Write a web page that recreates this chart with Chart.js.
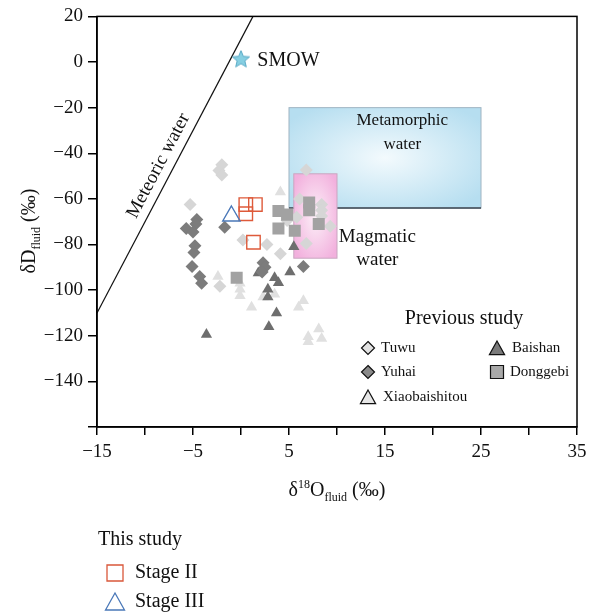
<!DOCTYPE html>
<html>
<head>
<meta charset="utf-8">
<script src="https://cdn.jsdelivr.net/npm/chart.js@4.4.1/dist/chart.umd.min.js"></script>
<style>
  html, body { margin: 0; padding: 0; background: #fff; }
  #wrap { width: 606px; height: 616px; }
</style>
</head>
<body>
<div id="wrap"><canvas id="isotopeChart" width="606" height="616"></canvas></div>
<script>
// Nhãn trục
const xTickLabels = [-15, -5, 5, 15, 25, 35];
const yTickLabels = [20, 0, -20, -40, -60, -80, -100, -120, -140];

// Previous study: [δ18O, δD]
const tuwu = [[-2.0, -45], [-2.3, -47.5], [-2.0, -49.5], [-5.3, -62.5], [6.8, -47.3], [6.1, -60],
  [8.4, -62.5], [8.4, -65], [8.4, -67.5], [9.3, -72], [5.8, -68], [4.8, -69.5], [6.8, -79.6],
  [0.2, -78], [2.7, -80], [4.1, -84], [-2.2, -98.3]];
const yuhai = [[-4.6, -69], [-4.7, -71], [-5.7, -73], [-5.0, -74.5], [-1.7, -72.4], [-4.8, -80.5],
  [-4.9, -83.5], [-5.1, -89.6], [-4.3, -94], [-4.1, -97], [2.3, -88], [2.5, -90], [2.2, -92], [6.5, -89.6]];
const xiaobaishitou = [[4.1, -57], [-2.4, -94], [-0.1, -97], [-0.1, -99.6], [-0.1, -102.5],
  [1.1, -107.5], [2.3, -103], [3.5, -101.8], [6.0, -107.5], [6.5, -104.6], [8.1, -117],
  [7.0, -120.4], [7.0, -122.6], [8.4, -121.2]];
const baishan = [[1.8, -92.5], [3.5, -94.6], [3.9, -96.8], [5.1, -92], [2.8, -99.6], [2.8, -103],
  [3.7, -110], [2.9, -116], [-3.6, -119.4], [5.5, -81]];
const donggebi = [[-0.45, -94.6], [3.9, -65.3], [4.8, -66.9], [3.9, -73], [5.6, -74],
  [7.1, -61.6], [7.1, -65], [8.1, -71]];

// This study
const stageII = [[0.5, -62.5], [1.5, -62.5], [0.5, -66.5], [1.3, -79]];
const stageIII = [[-1.0, -67.5]];

// Tham chiếu
const smow = [[0, 1.5]];
const meteoricLine = [[-15, -110], [1.25, 20]];
const metamorphicBox = [5, 25, -20, -64];   // xMin, xMax, yMax, yMin
const magmaticBox = [5.5, 10, -49, -86];

const SERIF = "'Liberation Serif', 'DejaVu Serif', serif";

function toPts(arr) {
  return arr.map(p => ({ x: p[0], y: p[1] }));
}

function fmt(v) {
  return v < 0 ? "\u2212" + Math.abs(v) : String(v);
}

// Ngôi sao SMOW
function makeStar(size, fill, stroke) {
  const c = document.createElement("canvas");
  c.width = size; c.height = size;
  const g = c.getContext("2d");
  const cx = size / 2, cy = size / 2 + 1, R = size / 2 - 1, r = R * 0.45;
  g.beginPath();
  for (let i = 0; i < 10; i++) {
    const a = -Math.PI / 2 + i * Math.PI / 5;
    const rr = i % 2 ? r : R;
    g.lineTo(cx + rr * Math.cos(a), cy + rr * Math.sin(a));
  }
  g.closePath();
  g.fillStyle = fill; g.fill();
  g.strokeStyle = stroke; g.lineWidth = 1; g.stroke();
  return c;
}

function marker(ctx, style, x, y, r, fill, stroke, lw) {
  ctx.beginPath();
  if (style === "diamond") {
    ctx.moveTo(x, y - r); ctx.lineTo(x + r, y); ctx.lineTo(x, y + r); ctx.lineTo(x - r, y);
  } else if (style === "triangle") {
    ctx.moveTo(x, y - r); ctx.lineTo(x + r * 0.95, y + r * 0.7); ctx.lineTo(x - r * 0.95, y + r * 0.7);
  } else {
    ctx.rect(x - r, y - r, 2 * r, 2 * r);
  }
  ctx.closePath();
  if (fill) { ctx.fillStyle = fill; ctx.fill(); }
  if (stroke) { ctx.strokeStyle = stroke; ctx.lineWidth = lw; ctx.stroke(); }
}

// Vẽ chuỗi chữ có chỉ số trên/dưới
function richText(ctx, parts, x, y) {
  let total = 0;
  parts.forEach(p => { ctx.font = p.size + "px " + SERIF; p.w = ctx.measureText(p.t).width; total += p.w; });
  let cx = x - total / 2;
  ctx.textAlign = "left";
  ctx.textBaseline = "alphabetic";
  parts.forEach(p => {
    ctx.font = p.size + "px " + SERIF;
    ctx.fillText(p.t, cx, y + (p.dy || 0));
    cx += p.w;
  });
}

function fillBox(ctx, chart, box, inner, outer, edge) {
  const xs = chart.scales.x, ys = chart.scales.y;
  const x0 = xs.getPixelForValue(box[0]), x1 = xs.getPixelForValue(box[1]);
  const y0 = ys.getPixelForValue(box[2]), y1 = ys.getPixelForValue(box[3]);
  const w = x1 - x0, h = y1 - y0;
  ctx.save();
  ctx.translate((x0 + x1) / 2, (y0 + y1) / 2);
  ctx.scale(1, h / w);
  const grad = ctx.createRadialGradient(0, 0, 0, 0, 0, w * 0.62);
  grad.addColorStop(0, inner);
  grad.addColorStop(1, outer);
  ctx.fillStyle = grad;
  ctx.fillRect(-w / 2, -w / 2, w, w);
  ctx.restore();
  ctx.strokeStyle = edge;
  ctx.lineWidth = 1;
  ctx.strokeRect(x0, y0, w, h);
  return { x0, x1, y0, y1 };
}

const decorPlugin = {
  id: "decor",
  beforeDatasetsDraw(chart) {
    const ctx = chart.ctx;
    const m = fillBox(ctx, chart, metamorphicBox, "#f3fafd", "#b6def0", "#9fb4c2");
    ctx.strokeStyle = "#3c4650";
    ctx.lineWidth = 1.5;
    ctx.beginPath(); ctx.moveTo(m.x0, m.y1); ctx.lineTo(m.x1, m.y1); ctx.stroke();
    fillBox(ctx, chart, magmaticBox, "#fcf0f8", "#f2b0dd", "#c9a6c0");
  },
  afterDatasetsDraw(chart) {
    const ctx = chart.ctx, ca = chart.chartArea;
    const xs = chart.scales.x, ys = chart.scales.y;
    ctx.save();
    // khung
    ctx.strokeStyle = "#000"; ctx.lineWidth = 1.5;
    ctx.strokeRect(ca.left, ca.top, ca.right - ca.left, ca.bottom - ca.top);

    ctx.fillStyle = "#111";
    ctx.font = "20px " + SERIF;
    ctx.textBaseline = "middle";
    ctx.textAlign = "left";
    ctx.fillText("SMOW", xs.getPixelForValue(1.7), ys.getPixelForValue(0.6));

    ctx.textAlign = "center";
    ctx.font = "17px " + SERIF;
    ctx.fillText("Metamorphic", xs.getPixelForValue(16.8), ys.getPixelForValue(-25.7));
    ctx.fillText("water", xs.getPixelForValue(16.8), ys.getPixelForValue(-36.3));
    ctx.font = "19px " + SERIF;
    ctx.fillText("Magmatic", xs.getPixelForValue(14.2), ys.getPixelForValue(-76.5));
    ctx.fillText("water", xs.getPixelForValue(14.2), ys.getPixelForValue(-87));

    // Meteoric water, dọc theo đường
    const p0x = xs.getPixelForValue(meteoricLine[0][0]), p0y = ys.getPixelForValue(meteoricLine[0][1]);
    const p1x = xs.getPixelForValue(meteoricLine[1][0]), p1y = ys.getPixelForValue(meteoricLine[1][1]);
    const ang = Math.atan2(p1y - p0y, p1x - p0x);
    const tx = xs.getPixelForValue(-8.6), ty = ys.getPixelForValue(-45.5);
    ctx.translate(tx, ty);
    ctx.rotate(ang);
    ctx.font = "19px " + SERIF;
    ctx.fillText("Meteoric water", 0, 0);
    ctx.restore();
  },
  afterDraw(chart) {
    const ctx = chart.ctx, ca = chart.chartArea;
    ctx.save();
    ctx.fillStyle = "#111";
    // tiêu đề trục
    richText(ctx, [
      { t: "\u03B4", size: 20 }, { t: "18", size: 12, dy: -8 }, { t: "O", size: 20 },
      { t: "fluid", size: 12, dy: 5 }, { t: " (\u2030)", size: 20 }
    ], (ca.left + ca.right) / 2, 496);
    ctx.save();
    ctx.translate(35, 231);
    ctx.rotate(-Math.PI / 2);
    richText(ctx, [
      { t: "\u03B4D", size: 20 }, { t: "fluid", size: 12, dy: 5 }, { t: " (\u2030)", size: 20 }
    ], 0, 0);
    ctx.restore();

    // Previous study legend
    const lx = ca.right - 209, ly = 319;
    ctx.textAlign = "center"; ctx.textBaseline = "middle";
    ctx.font = "20px " + SERIF;
    ctx.fillText("Previous study", lx + 96, ly);
    ctx.font = "15px " + SERIF;
    ctx.textAlign = "left";
    const items = [
      ["Tuwu", "diamond", "#e2e2e2", 0, 29],
      ["Yuhai", "diamond", "#8a8a8a", 0, 53],
      ["Xiaobaishitou", "triangle", "#e6e6e6", 0, 78],
      ["Baishan", "triangle", "#7a7a7a", 129, 29],
      ["Donggebi", "square", "#a8a8a8", 129, 53]
    ];
    items.forEach(it => {
      const mx = lx + it[3], my = ly + it[4];
      const r = it[1] === "square" ? 6.5 : it[1] === "triangle" ? 8 : 6.5;
      marker(ctx, it[1], mx, my + (it[1] === "triangle" ? 1 : 0), r, it[2], "#111", 1.2);
      ctx.fillStyle = "#111";
      ctx.fillText(it[0], mx + (it[1] === "triangle" ? 15 : 13), my);
    });

    // This study legend
    ctx.font = "20px " + SERIF;
    ctx.textAlign = "left";
    ctx.fillStyle = "#111";
    ctx.fillText("This study", 98, 540);
    marker(ctx, "square", 115, 573, 8, null, "#d9573a", 1.3);
    marker(ctx, "triangle", 115, 603, 10, null, "#4a78b8", 1.3);
    ctx.fillStyle = "#111";
    ctx.fillText("Stage II", 135, 573);
    ctx.fillText("Stage III", 135, 602);
    ctx.restore();
  }
};

const starImg = makeStar(20, "#86cfe2", "#5aaac6");

new Chart(document.getElementById("isotopeChart"), {
  type: "scatter",
  data: {
    datasets: [
      { label: "Stage III", data: toPts(stageIII), pointStyle: "triangle", pointRadius: 10,
        backgroundColor: "rgba(0,0,0,0)", borderColor: "#4a78b8", borderWidth: 1.4 },
      { label: "Stage II", data: toPts(stageII), pointStyle: "rect", pointRadius: 9.5,
        backgroundColor: "rgba(0,0,0,0)", borderColor: "#de5a3a", borderWidth: 1.4 },
      { label: "SMOW", data: toPts(smow), pointStyle: starImg },
      { label: "Donggebi", data: toPts(donggebi), pointStyle: "rect", pointRadius: 8.5,
        backgroundColor: "#a2a2a2", borderWidth: 0 },
      { label: "Yuhai", data: toPts(yuhai), pointStyle: "rectRot", pointRadius: 6.5,
        backgroundColor: "#7c7c7c", borderWidth: 0 },
      { label: "Baishan", data: toPts(baishan), pointStyle: "triangle", pointRadius: 6.5,
        backgroundColor: "#6e6e6e", borderWidth: 0 },
      { label: "Tuwu", data: toPts(tuwu), pointStyle: "rectRot", pointRadius: 6.5,
        backgroundColor: "#d6d6d6", borderWidth: 0 },
      { label: "Xiaobaishitou", data: toPts(xiaobaishitou), pointStyle: "triangle", pointRadius: 6.5,
        backgroundColor: "#e0e0e0", borderWidth: 0 },
      { label: "Meteoric water", type: "line", data: toPts(meteoricLine), borderColor: "#111",
        borderWidth: 1.2, pointRadius: 0, fill: false }
    ]
  },
  options: {
    responsive: false,
    animation: false,
    layout: { padding: { top: 8, right: 29, left: 0, bottom: 0 } },
    plugins: { legend: { display: false }, tooltip: { enabled: false } },
    scales: {
      x: {
        type: "linear", min: -15, max: 35,
        afterFit: s => { s.height = 189; },
        ticks: {
          stepSize: 5, maxRotation: 0, autoSkip: false, padding: 6, color: "#111",
          font: { family: SERIF, size: 19 },
          callback: v => (xTickLabels.includes(v) ? fmt(v) : "")
        },
        grid: { drawOnChartArea: false, drawTicks: true, tickLength: 8, color: "#000", lineWidth: 1.5 },
        border: { display: true, color: "#000", width: 1.5 }
      },
      y: {
        type: "linear", min: -160, max: 20,
        afterFit: s => { s.width = 97; },
        ticks: {
          stepSize: 20, autoSkip: false, padding: 5, color: "#111",
          font: { family: SERIF, size: 19 },
          callback: v => (yTickLabels.includes(v) ? fmt(v) : "")
        },
        grid: { drawOnChartArea: false, drawTicks: true, tickLength: 9, color: "#000", lineWidth: 1.5 },
        border: { display: true, color: "#000", width: 1.5 }
      }
    }
  },
  plugins: [decorPlugin]
});
</script>
</body>
</html>
